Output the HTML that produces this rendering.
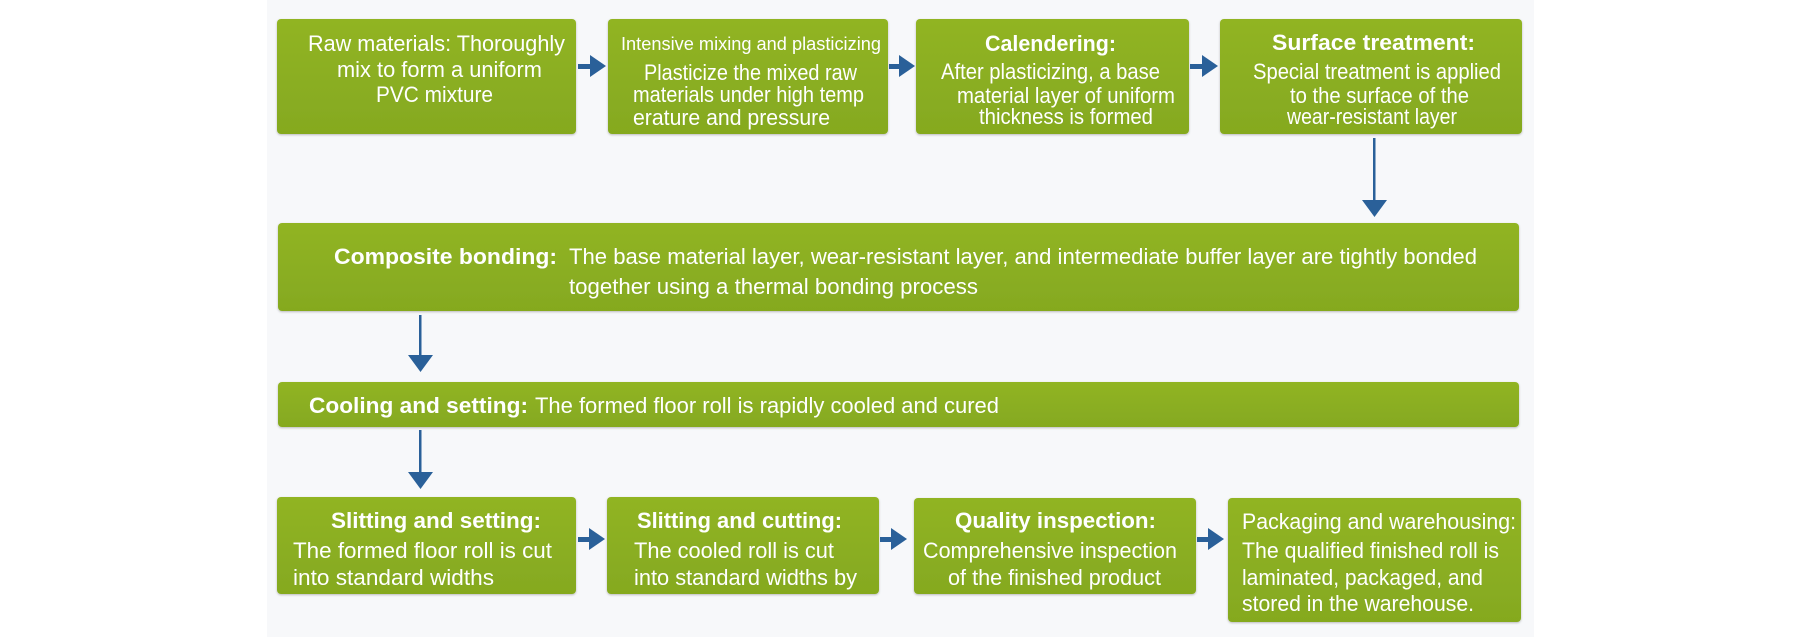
<!DOCTYPE html>
<html><head><meta charset="utf-8"><style>
html,body{margin:0;padding:0;background:#fff;}
svg{display:block}
text{font-family:"Liberation Sans",sans-serif;fill:#fff;font-size:22px}
.b{font-weight:bold}
</style></head><body>
<svg width="1800" height="637" viewBox="0 0 1800 637" xmlns="http://www.w3.org/2000/svg">
<defs>
<linearGradient id="g" x1="0" y1="0" x2="0" y2="1">
<stop offset="0" stop-color="#91b424"/><stop offset="1" stop-color="#85a91f"/>
</linearGradient>
<filter id="s" x="-5%" y="-5%" width="110%" height="120%"><feDropShadow dx="0" dy="1" stdDeviation="1" flood-color="#000" flood-opacity="0.25"/></filter>
</defs>
<rect x="267" y="0" width="1267" height="637" fill="#f7f8fa"/>
<g fill="url(#g)" filter="url(#s)">
<rect x="277" y="19" width="299" height="115" rx="4"/>
<rect x="608" y="19" width="280" height="115" rx="4"/>
<rect x="916" y="19" width="273" height="115" rx="4"/>
<rect x="1220" y="19" width="302" height="115" rx="4"/>
<rect x="278" y="223" width="1241" height="88" rx="4"/>
<rect x="278" y="382" width="1241" height="45" rx="4"/>
<rect x="277" y="497" width="299" height="97" rx="4"/>
<rect x="607" y="497" width="272" height="97" rx="4"/>
<rect x="914" y="498" width="282" height="96" rx="4"/>
<rect x="1228" y="498" width="293" height="124" rx="4"/>
</g>
<g fill="#2a6099" stroke="none">
<rect x="578" y="64" width="14" height="5"/><polygon points="590,55 606,66 590,77"/>
<rect x="889" y="64" width="12" height="5"/><polygon points="899,55 915,66 899,77"/>
<rect x="1190" y="64" width="14" height="5"/><polygon points="1202,55 1218,66 1202,77"/>
<rect x="578" y="537" width="13" height="5"/><polygon points="589,528 605,539 589,550"/>
<rect x="880" y="537" width="13" height="5"/><polygon points="891,528 907,539 891,550"/>
<rect x="1197" y="537" width="13" height="5"/><polygon points="1208,528 1224,539 1208,550"/>
<rect x="1373" y="138" width="2.5" height="64"/><polygon points="1362,200 1387,200 1374.5,217"/>
<rect x="419" y="315" width="2.5" height="42"/><polygon points="408,355 433,355 420.5,372"/>
<rect x="419" y="430" width="2.5" height="44"/><polygon points="408,472 433,472 420.5,489"/>
</g>
<g>
<text x="308" y="51" textLength="257" lengthAdjust="spacingAndGlyphs">Raw materials: Thoroughly</text>
<text x="337" y="77" textLength="205" lengthAdjust="spacingAndGlyphs">mix to form a uniform</text>
<text x="376" y="102" textLength="117" lengthAdjust="spacingAndGlyphs">PVC mixture</text>

<text x="621" y="50" textLength="260" lengthAdjust="spacingAndGlyphs" style="font-size:18px">Intensive mixing and plasticizing</text>
<text x="644" y="80" textLength="213" lengthAdjust="spacingAndGlyphs">Plasticize the mixed raw</text>
<text x="633" y="102" textLength="231" lengthAdjust="spacingAndGlyphs">materials under high temp</text>
<text x="633" y="125" textLength="197" lengthAdjust="spacingAndGlyphs">erature and pressure</text>

<text class="b" x="985" y="51" textLength="131" lengthAdjust="spacingAndGlyphs">Calendering:</text>
<text x="941" y="79" textLength="219" lengthAdjust="spacingAndGlyphs">After plasticizing, a base</text>
<text x="957" y="103" textLength="218" lengthAdjust="spacingAndGlyphs">material layer of uniform</text>
<text x="979" y="124" textLength="174" lengthAdjust="spacingAndGlyphs">thickness is formed</text>

<text class="b" x="1272" y="50" textLength="203" lengthAdjust="spacingAndGlyphs">Surface treatment:</text>
<text x="1253" y="79" textLength="248" lengthAdjust="spacingAndGlyphs">Special treatment is applied</text>
<text x="1290" y="103" textLength="179" lengthAdjust="spacingAndGlyphs">to the surface of the</text>
<text x="1287" y="124" textLength="170" lengthAdjust="spacingAndGlyphs">wear-resistant layer</text>

<text class="b" x="334" y="264" textLength="223" lengthAdjust="spacingAndGlyphs">Composite bonding:</text>
<text x="569" y="264" textLength="908" lengthAdjust="spacingAndGlyphs">The base material layer, wear-resistant layer, and intermediate buffer layer are tightly bonded</text>
<text x="569" y="294" textLength="409" lengthAdjust="spacingAndGlyphs">together using a thermal bonding process</text>

<text class="b" x="309" y="413" textLength="219" lengthAdjust="spacingAndGlyphs">Cooling and setting:</text>
<text x="535" y="413" textLength="464" lengthAdjust="spacingAndGlyphs">The formed floor roll is rapidly cooled and cured</text>

<text class="b" x="331" y="528" textLength="210" lengthAdjust="spacingAndGlyphs">Slitting and setting:</text>
<text x="293" y="558" textLength="259" lengthAdjust="spacingAndGlyphs">The formed floor roll is cut</text>
<text x="293" y="585" textLength="201" lengthAdjust="spacingAndGlyphs">into standard widths</text>

<text class="b" x="637" y="528" textLength="205" lengthAdjust="spacingAndGlyphs">Slitting and cutting:</text>
<text x="634" y="558" textLength="200" lengthAdjust="spacingAndGlyphs">The cooled roll is cut</text>
<text x="634" y="585" textLength="223" lengthAdjust="spacingAndGlyphs">into standard widths by</text>

<text class="b" x="955" y="528" textLength="201" lengthAdjust="spacingAndGlyphs">Quality inspection:</text>
<text x="923" y="558" textLength="254" lengthAdjust="spacingAndGlyphs">Comprehensive inspection</text>
<text x="948" y="585" textLength="213" lengthAdjust="spacingAndGlyphs">of the finished product</text>

<text x="1242" y="529" textLength="274" lengthAdjust="spacingAndGlyphs">Packaging and warehousing:</text>
<text x="1242" y="558" textLength="257" lengthAdjust="spacingAndGlyphs">The qualified finished roll is</text>
<text x="1242" y="585" textLength="241" lengthAdjust="spacingAndGlyphs">laminated, packaged, and</text>
<text x="1242" y="611" textLength="232" lengthAdjust="spacingAndGlyphs">stored in the warehouse.</text>
</g>
</svg>
</body></html>
